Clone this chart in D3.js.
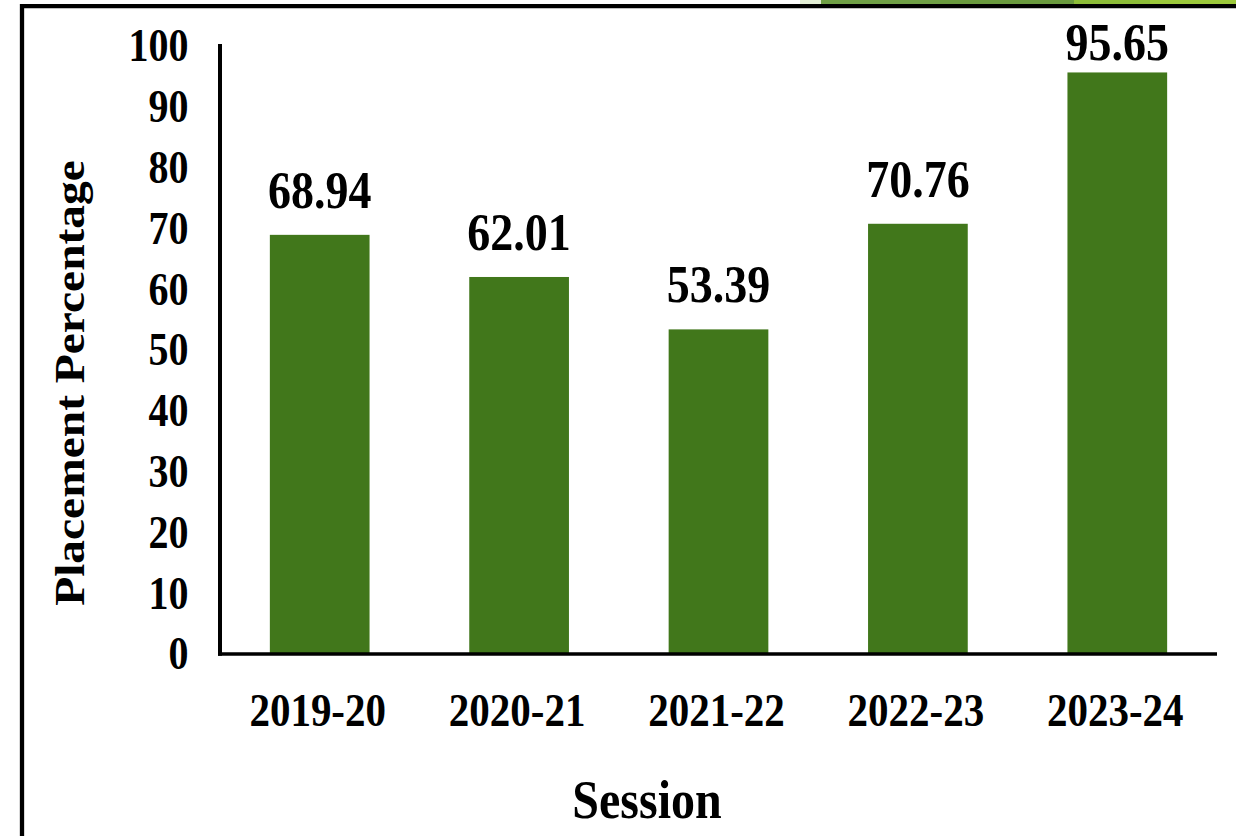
<!DOCTYPE html>
<meta charset="utf-8">
<script src="https://d3js.org/d3.v7.min.js"></script>
<style>
  body { margin: 0; background: #fff; }
  text { font-family: "Liberation Serif", "Times New Roman", serif; font-weight: bold; fill: #000; }
</style>
<body>
<div id="chart"></div>
<script>

  // data
  const sessions = ["2019-20", "2020-21", "2021-22", "2022-23", "2023-24"];
  const placement = [68.94, 62.01, 53.39, 70.76, 95.65];
  const yTicks = [0, 10, 20, 30, 40, 50, 60, 70, 80, 90, 100];

  const W = 1236, H = 836;
  const plot = {left: 220, right: 1217, top: 46, bottom: 654};
  const sy = 1.15;   // text in the picture is a little taller than wide

  const svg = d3.select("#chart").append("svg")
      .attr("width", W)
      .attr("height", H);

  // slide decoration: thin green strip at the very top, then the frame
  const strip = [["#e3eed5", 800, 821], ["#70a046", 821, 940], ["#6a9a3e", 940, 1074], ["#8dbd38", 1074, 1150], ["#9cc93b", 1150, 1236]];
  svg.selectAll("rect.strip")
    .data(strip)
    .join("rect")
      .attr("class", "strip")
      .attr("x", d => d[1]).attr("y", 0)
      .attr("width", d => d[2] - d[1]).attr("height", 4)
      .attr("fill", d => d[0]);
  svg.append("path")
      .attr("d", `M22,${H} V6.2 H${W}`)
      .attr("fill", "none")
      .attr("stroke", "#000")
      .attr("stroke-width", 4.3);

  // scales
  const x = d3.scaleBand()
      .domain(sessions)
      .range([plot.left, plot.right])
      .paddingInner(0.5)
      .paddingOuter(0.25);
  const y = d3.scaleLinear()
      .domain([0, 100])
      .range([plot.bottom, plot.top]);

  // bars
  svg.append("g")
    .selectAll("rect")
    .data(placement)
    .join("rect")
      .attr("x", (d, i) => x(sessions[i]))
      .attr("y", d => y(d))
      .attr("width", x.bandwidth())
      .attr("height", d => y(0) - y(d))
      .attr("fill", "#41771b");

  // helper: stretched text, anchored at (tx, ty)
  function label(g, tx, ty, size, anchor, baseline) {
    return g.append("text")
      .attr("transform", `translate(${tx},${ty}) scale(1,${sy})`)
      .attr("text-anchor", anchor)
      .attr("dominant-baseline", baseline || "auto")
      .style("font-size", size + "px");
  }

  // value labels (the last one is kept inside the frame)
  const lab = svg.append("g");
  placement.forEach((v, i) => {
    label(lab, x(sessions[i]) + x.bandwidth() / 2, Math.max(y(v) - 27, 60), 46, "middle")
      .text(v.toFixed(2));
  });

  // y axis
  const yAxis = svg.append("g");
  yTicks.forEach(t => {
    label(yAxis, 188.5, y(t), 40, "end", "central").text(t);
  });
  yAxis.append("line")
      .attr("x1", plot.left).attr("x2", plot.left)
      .attr("y1", plot.top - 2).attr("y2", plot.bottom + 1.75)
      .attr("stroke", "#000").attr("stroke-width", 4);

  // x axis
  const xAxis = svg.append("g");
  sessions.forEach(s => {
    label(xAxis, x(s) + x.bandwidth() / 2 - 2, 726, 41, "middle").text(s);
  });
  xAxis.append("line")
      .attr("x1", plot.left - 2).attr("x2", plot.right)
      .attr("y1", plot.bottom).attr("y2", plot.bottom)
      .attr("stroke", "#000").attr("stroke-width", 3.5);

  // axis titles
  label(svg, 647, 818, 48, "middle").text("Session");
  svg.append("text")
      .attr("transform", `translate(84,383) rotate(-90) scale(1.13,1)`)
      .attr("text-anchor", "middle")
      .style("font-size", "42px")
      .text("Placement Percentage");

</script>
</body>
